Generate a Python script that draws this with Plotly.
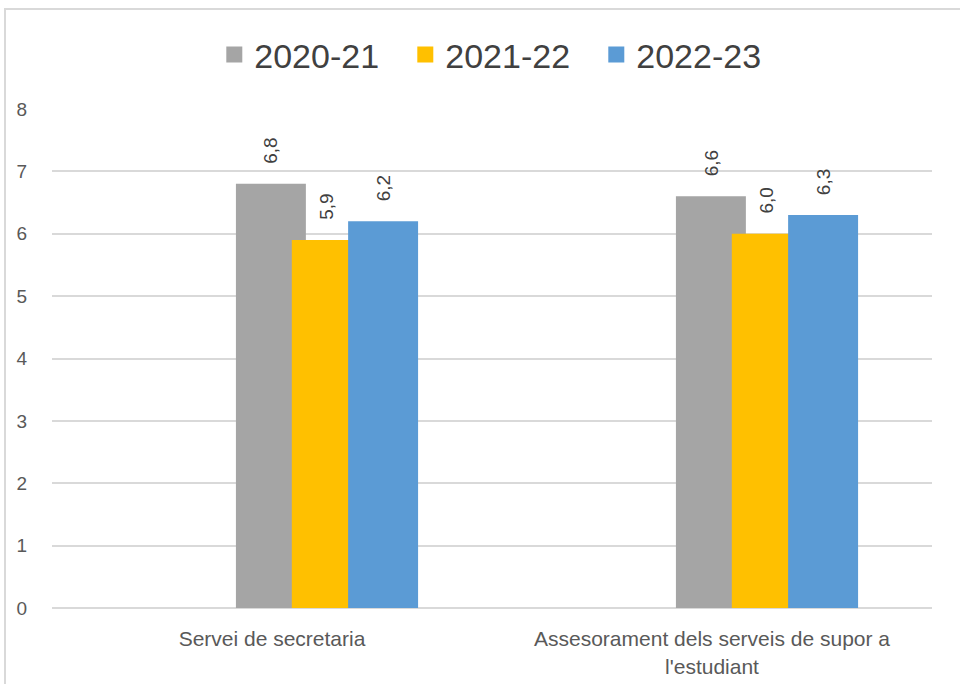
import plotly.graph_objects as go

categories = ["Servei de secretaria", "Assesorament dels serveis de supor a<br>l'estudiant"]
series_names = ["2020-21", "2021-22", "2022-23"]
values_2020 = [6.8, 6.6]
values_2021 = [5.9, 6.0]
values_2022 = [6.2, 6.3]
colors = ["#A5A5A5", "#FFC000", "#5B9BD5"]
offsets = [-0.082, 0.045, 0.173]
bar_width = 0.159

L, R, T, B = 52, 28, 109, 76
W, H = 960, 684
pw, ph = W - L - R, H - T - B
px_per_cat = pw / len(categories)

fig = go.Figure()
annotations = []
for name, vals, col, off in zip(series_names, [values_2020, values_2021, values_2022], colors, offsets):
    fig.add_trace(go.Bar(
        x=categories, y=vals, name=name, showlegend=False,
        marker=dict(color=col, line=dict(width=0)),
        offset=off, width=bar_width,
    ))
    fig.add_trace(go.Scatter(
        x=[None], y=[None], name=name, mode="markers",
        marker=dict(symbol="square", size=20, color=col),
    ))
    for c, v in zip(categories, vals):
        annotations.append(dict(
            x=c, y=v, xref="x", yref="y", text=f"{v:.1f}".replace(".", ","),
            textangle=-90, showarrow=False, yanchor="bottom", xanchor="center",
            xshift=(off + bar_width / 2) * px_per_cat, yshift=18,
            font=dict(size=19, color="#404040", family="Liberation Sans"),
        ))

fig.update_layout(
    width=W, height=H,
    barmode="overlay",
    separators=",.",
    paper_bgcolor="white", plot_bgcolor="white",
    margin=dict(l=L, r=R, t=T, b=B, autoexpand=False),
    font=dict(family="Liberation Sans", color="#595959"),
    legend=dict(orientation="h", x=0.51, xanchor="center", y=1.0 + (T - 55) / ph, yanchor="middle",
                font=dict(size=34, color="#404040", family="Liberation Sans"),
                itemsizing="trace", entrywidth=146, entrywidthmode="pixels", traceorder="normal"),
    showlegend=True,
    annotations=annotations,
    xaxis=dict(showgrid=False, showline=False, ticks="outside", ticklen=12, tickcolor="rgba(0,0,0,0)",
               automargin=False,
               tickfont=dict(size=21, color="#595959", family="Liberation Sans")),
    yaxis=dict(range=[0, 8], dtick=1, showgrid=True, gridcolor="#D9D9D9", gridwidth=1.5,
               zeroline=True, zerolinecolor="#D9D9D9", zerolinewidth=1.5, showline=False,
               ticks="outside", ticklen=20, tickcolor="rgba(0,0,0,0)", automargin=False,
               tickfont=dict(size=19, color="#595959", family="Liberation Sans")),
    shapes=[dict(type="rect", xref="paper", yref="paper",
                 x0=(5 - L) / pw, x1=(963 - L) / pw,
                 y0=(H - B - 690) / ph, y1=(H - B - 9) / ph,
                 line=dict(color="#D9D9D9", width=2), fillcolor="rgba(0,0,0,0)", layer="below")],
)

fig.write_html("out.html", config={"displayModeBar": False},
               post_script="document.body.style.margin='0';document.body.style.overflow='hidden';")
